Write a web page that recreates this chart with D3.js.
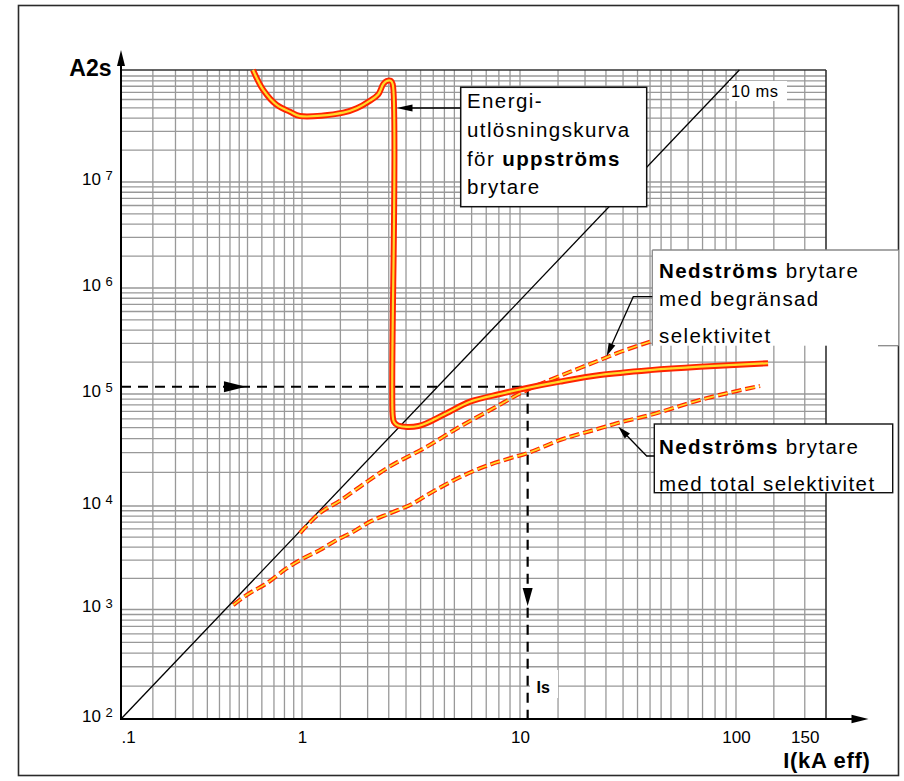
<!DOCTYPE html>
<html lang="sv">
<head>
<meta charset="utf-8">
<title>Energiselektivitet</title>
<script src="https://cdn.jsdelivr.net/npm/d3@7/dist/d3.min.js"></script>
<style>
html,body{margin:0;padding:0;background:#fff;}
svg{display:block;}
</style>
</head>
<body>
<svg id="chart" width="904" height="781"></svg>
<script>
// ---------------- data ----------------
const xDomainStops = [0.1, 1, 10, 100, 170];
const yDomainStops = [1e2, 1e3, 1e4, 1e5, 1e6, 1e7, 1e8, 1.14e8];

const xTickValues = [0.1, 1, 10, 100, 150];
const xTickLabels = [".1", "1", "10", "100", "150"];
const yTickExponents = [2, 3, 4, 5, 6, 7];

const xGridDecades = [-1, 0, 1];
const xGridMantissas = [1, 1.5, 2, 2.5, 3, 3.5, 4, 4.5, 5, 6, 7, 8, 9];
const xGridExtra = [100, 125, 150];
const yGridDecades = [2, 3, 4, 5, 6, 7];
const yGridMantissas = [1, 2, 3, 4, 5, 6, 7, 8, 9];
const yGridExtra = [1e8];

// upstream breaker energy let-through curve (kA, A2s)
const upstreamI = [0.536, 0.611, 0.725, 0.859, 0.975, 1.547, 1.782, 2.051, 2.239, 2.36, 2.447, 2.552, 2.606,
                   2.606, 2.643, 2.757, 3.417, 4.529, 5.896, 8.095, 10.77, 15.32, 23.46, 40.0, 68.1, 120.8];
const upstreamE = [1.14e8, 7.38e7, 5.33e7, 4.60e7, 4.19e7, 4.51e7, 4.96e7, 5.85e7, 6.72e7, 8.40e7, 8.97e7, 9.03e7, 8.40e7,
                   6.49e4, 5.62e4, 5.23e4, 5.18e4, 6.63e4, 8.54e4, 1.0e5, 1.14e5, 1.31e5, 1.51e5, 1.68e5, 1.81e5, 1.95e5];

// downstream breaker, limited selectivity
const limitedI = [0.975, 1.209, 1.494, 1.845, 2.447, 3.733, 5.306, 7.544, 10.74, 13.77, 23.46, 28.04, 40.0];
const limitedE = [5.48e3, 8.56e3, 1.115e4, 1.487e4, 2.17e4, 3.38e4, 5.11e4, 7.45e4, 1.09e5, 1.356e5, 2.09e5, 2.42e5, 3.11e5];

// downstream breaker, total selectivity
const totalI = [0.417, 0.495, 0.638, 0.823, 1.014, 1.209, 1.443, 1.719, 2.051, 2.533, 3.240, 3.866, 6.555, 9.00,
                10.74, 15.32, 23.46, 28.04, 40.0, 68.1, 115.2];
const totalE = [1.105e3, 1.381e3, 1.79e3, 2.50e3, 3.12e3, 3.76e3, 4.69e3, 5.64e3, 7.05e3, 8.50e3, 1.057e4, 1.30e4,
                2.17e4, 2.67e4, 2.95e4, 3.88e4, 4.94e4, 5.47e4, 6.49e4, 8.84e4, 1.19e5];

// 10 ms reference line
const tenMsI = [0.1, 102];
const tenMsE = [1e2, 1.14e8];

// selectivity limit
const IsValue = 10.85;
const EsValue = 1.17e5;
const hArrowI = 0.49;
const vArrowE = 1.08e3;

// texts
const box1Lines = [[["Energi-", false]], [["utlösningskurva", false]], [["för ", false], ["uppströms", true]], [["brytare", false]]];
const box2Lines = [[["Nedströms", true], [" brytare", false]], [["med begränsad", false]], [["selektivitet", false]]];
const box3Lines = [[["Nedströms", true], [" brytare", false]], [["med total selektivitet", false]]];

// ---------------- drawing ----------------
const W = 904, H = 781;
const FONT = '"Liberation Sans", Arial, Helvetica, sans-serif';
const svg = d3.select("#chart").attr("font-family", FONT);

const x = d3.scaleLog().domain(xDomainStops).range([121, 302, 520, 736, 826]);
const y = d3.scaleLog().domain(yDomainStops).range([719, 609.5, 506, 394, 288, 182, 76, 70]);

const X0 = x(xDomainStops[0]), X1 = x(xDomainStops[xDomainStops.length - 1]);
const Y0 = y(yDomainStops[0]), Y1 = y(yDomainStops[yDomainStops.length - 1]);

svg.append("rect").attr("width", W).attr("height", H).attr("fill", "#fff");
svg.append("rect").attr("x", 18.5).attr("y", 5.5).attr("width", 880).attr("height", 770)
  .attr("fill", "none").attr("stroke", "#2a2a2a").attr("stroke-width", 1.6);

// grid
const xGridVals = [];
xGridDecades.forEach(p => xGridMantissas.forEach(m => xGridVals.push(m * Math.pow(10, p))));
xGridExtra.forEach(v => xGridVals.push(v));
const yGridVals = [];
yGridDecades.forEach(p => yGridMantissas.forEach(m => yGridVals.push(m * Math.pow(10, p))));
yGridExtra.forEach(v => yGridVals.push(v));

const grid = svg.append("g").attr("stroke", "#999").attr("stroke-width", 1.3);
grid.selectAll("line.gx").data(xGridVals).join("line").attr("class", "gx")
  .attr("x1", d => x(d)).attr("x2", d => x(d)).attr("y1", Y0).attr("y2", Y1);
grid.selectAll("line.gy").data(yGridVals).join("line").attr("class", "gy")
  .attr("x1", X0).attr("x2", X1).attr("y1", d => y(d)).attr("y2", d => y(d));

// frame of plot (top/right)
svg.append("line").attr("x1", X0).attr("x2", X1).attr("y1", Y1).attr("y2", Y1).attr("stroke", "#333").attr("stroke-width", 1.6);
svg.append("line").attr("x1", X1).attr("x2", X1).attr("y1", Y1).attr("y2", Y0).attr("stroke", "#333").attr("stroke-width", 1.6);

// 10 ms line
const lineXY = d3.line().x(d => x(d[0])).y(d => y(d[1]));
svg.append("path").datum(tenMsI.map((v, i) => [v, tenMsE[i]])).attr("d", lineXY)
  .attr("fill", "none").attr("stroke", "#000").attr("stroke-width", 1.3);

// "10 ms" label
svg.append("rect").attr("x", 729).attr("y", 81).attr("width", 58).attr("height", 20).attr("fill", "#fff");
svg.append("text").attr("x", 731).attr("y", 96.5).attr("font-size", 16.5).attr("letter-spacing", 0.5).text("10 ms");

function arrowHead(parent, tx, ty, fx, fy, len, half) {
  const dx = tx - fx, dy = ty - fy, L = Math.hypot(dx, dy);
  const ux = dx / L, uy = dy / L;
  const bx = tx - ux * len, by = ty - uy * len;
  const px = -uy, py = ux;
  parent.append("polygon")
    .attr("points", [[tx, ty], [bx + px * half, by + py * half], [bx - px * half, by - py * half]].map(p => p.join(",")).join(" "))
    .attr("fill", "#000");
}

// Is dashed guide lines
const isX = x(IsValue), isY = y(EsValue);
const guides = svg.append("g").attr("stroke", "#000").attr("stroke-width", 2.2).attr("stroke-dasharray", "10,7");
guides.append("line").attr("x1", X0).attr("x2", isX).attr("y1", isY).attr("y2", isY);
guides.append("line").attr("x1", isX).attr("x2", isX).attr("y1", isY).attr("y2", Y0);
arrowHead(svg, x(hArrowI), isY, X0, isY, 22, 5.5);
arrowHead(svg, isX, y(vArrowE), isX, isY, 18, 5);

// Is label
svg.append("rect").attr("x", 530).attr("y", 670).attr("width", 28).attr("height", 28).attr("fill", "#fff");
svg.append("text").attr("x", 536.5).attr("y", 693.3).attr("font-size", 16).attr("font-weight", "bold").text("Is");

// curves
const RED = "#ff2400", YEL = "#ffda2a";
function drawCurve(I, E, curve, outerW, innerW, dash) {
  const gen = d3.line().x(d => x(d[0])).y(d => y(d[1])).curve(curve);
  const pts = I.map((v, i) => [v, E[i]]);
  const g = svg.append("g").attr("fill", "none").attr("stroke-linejoin", "round");
  const o = g.append("path").datum(pts).attr("d", gen).attr("stroke", RED).attr("stroke-width", outerW);
  const n = g.append("path").datum(pts).attr("d", gen).attr("stroke", YEL).attr("stroke-width", innerW);
  if (dash) { o.attr("stroke-dasharray", dash); n.attr("stroke-dasharray", dash); }
}
drawCurve(totalI, totalE, d3.curveMonotoneX, 4.2, 1.7, "10,4");
drawCurve(limitedI, limitedE, d3.curveMonotoneX, 4.2, 1.7, "10,4");
drawCurve(upstreamI, upstreamE, d3.curveCatmullRom.alpha(0.5), 6, 2.2, null);

// annotation text helper
function addLines(lines, x0, baselines) {
  const t = svg.append("text").attr("font-size", 20.5).attr("letter-spacing", 1.4).attr("fill", "#000");
  lines.forEach((segs, i) => {
    segs.forEach((s, j) => {
      const ts = t.append("tspan").text(s[0]).attr("font-weight", s[1] ? "bold" : "normal");
      if (j === 0) ts.attr("x", x0).attr("y", baselines[i]);
    });
  });
}

// box 1: upstream
svg.append("rect").attr("x", 460.7).attr("y", 87.3).attr("width", 186).attr("height", 119.4)
  .attr("fill", "#fff").attr("stroke", "#111").attr("stroke-width", 1.5);
addLines(box1Lines, 467, [108, 137, 165.5, 193.5]);
svg.append("line").attr("x1", 410).attr("x2", 460.7).attr("y1", 108).attr("y2", 108).attr("stroke", "#000").attr("stroke-width", 1.3);
arrowHead(svg, 396.5, 108, 460, 108, 16, 3.6);

// box 2: limited selectivity
svg.append("rect").attr("x", 652.3).attr("y", 250).attr("width", 246.2).attr("height", 95.7).attr("fill", "#fff");
const b2 = svg.append("g").attr("stroke", "#8a8a8a").attr("stroke-width", 1.3);
b2.append("line").attr("x1", 652.3).attr("x2", 898.5).attr("y1", 250).attr("y2", 250);
b2.append("line").attr("x1", 652.3).attr("x2", 652.3).attr("y1", 250).attr("y2", 345.7);
b2.append("line").attr("x1", 878).attr("x2", 898.5).attr("y1", 345.7).attr("y2", 345.7);
addLines(box2Lines, 659, [277.7, 306, 343]);
svg.append("polyline").attr("points", "652.3,296.7 633.3,296.7 611.5,345.3").attr("fill", "none").attr("stroke", "#000").attr("stroke-width", 1.3);
arrowHead(svg, 606.7, 356, 633.3, 296.7, 13, 3.6);

// box 3: total selectivity
svg.append("rect").attr("x", 654.3).attr("y", 424).attr("width", 238.4).attr("height", 68.7)
  .attr("fill", "#fff").attr("stroke", "#111").attr("stroke-width", 1.4);
addLines(box3Lines, 659, [454.3, 490.5]);
svg.append("polyline").attr("points", "654.3,456 646.7,456 627,435.7").attr("fill", "none").attr("stroke", "#000").attr("stroke-width", 1.3);
arrowHead(svg, 618.3, 426.7, 646.7, 456, 13, 3.6);

// axes lines with arrows
svg.append("line").attr("x1", X0).attr("x2", X0).attr("y1", Y0 + 1).attr("y2", 60).attr("stroke", "#000").attr("stroke-width", 2);
arrowHead(svg, X0, 50, X0, Y0, 16, 4);
svg.append("line").attr("x1", X0 - 1).attr("x2", 856).attr("y1", Y0).attr("y2", Y0).attr("stroke", "#000").attr("stroke-width", 2);
arrowHead(svg, 868.5, Y0, X0, Y0, 17, 4.2);

// x axis labels
const gx = svg.append("g").attr("transform", `translate(0,${Y0})`)
  .call(d3.axisBottom(x).tickValues(xTickValues).tickFormat(d => xTickLabels[xTickValues.indexOf(d)]).tickSize(0).tickPadding(12));
gx.select(".domain").remove();
gx.attr("font-family", FONT).attr("font-size", 17);
gx.selectAll("text").attr("fill", "#000");
gx.selectAll(".tick").filter(d => d === xTickValues[0]).select("text").attr("text-anchor", "start");

// y axis labels (10 with superscript exponent)
const gy = svg.append("g").attr("transform", `translate(${X0},0)`)
  .call(d3.axisLeft(y).tickValues(yTickExponents.map(e => Math.pow(10, e))).tickFormat(() => "").tickSize(0));
gy.select(".domain").remove();
gy.attr("font-family", FONT).attr("font-size", 17);
gy.selectAll(".tick text").remove();
gy.selectAll(".tick").each(function (d) {
  const t = d3.select(this);
  t.append("text").attr("x", -20).attr("y", 2).attr("text-anchor", "end").attr("font-size", 17).attr("fill", "#000").text("10");
  t.append("text").attr("x", -15.5).attr("y", -2.5).attr("text-anchor", "start").attr("font-size", 13).attr("fill", "#000").text(Math.round(Math.log10(d)));
});

// axis titles
svg.append("text").attr("x", 111.5).attr("y", 76).attr("text-anchor", "end").attr("font-size", 23).attr("font-weight", "bold").text("A2s");
svg.append("text").attr("x", 870.5).attr("y", 767.5).attr("text-anchor", "end").attr("font-size", 22).attr("letter-spacing", 0.7).attr("font-weight", "bold").text("I(kA eff)");
</script>
</body>
</html>
